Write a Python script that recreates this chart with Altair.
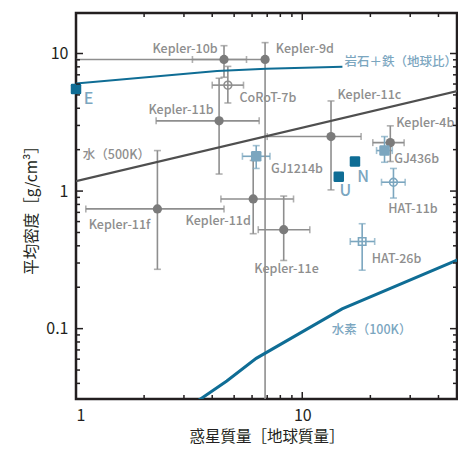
import altair as alt
import pandas as pd

# ---------------- data ----------------
planet_names = ["Kepler-10b", "Kepler-9d", "Kepler-11b", "Kepler-11c", "Kepler-4b",
                "Kepler-11f", "Kepler-11d", "Kepler-11e", "GJ1214b", "GJ436b",
                "HAT-11b", "HAT-26b", "CoRoT-7b"]
mass = [4.51, 6.85, 4.29, 13.4, 24.5, 2.29, 6.07, 8.28, 6.26, 23.1, 25.3, 18.4, 4.69]
mass_lo = [3.27, 0.5, 2.26, 7.0, 20.5, 1.105, 4.37, 6.39, 5.44, 21.3, 22.4, 16.3, 4.0]
mass_hi = [5.67, 6.85, 6.45, 18.2, 28.2, 4.51, 9.15, 10.8, 7.2, 25.0, 28.5, 20.9, 5.5]
density = [9.05, 9.05, 3.24, 2.49, 2.25, 0.742, 0.876, 0.524, 1.79, 1.97, 1.16, 0.43, 5.89]
dens_lo = [6.72, 0.01, 1.33, 1.02, 1.64, 0.27, 0.49, 0.313, 1.46, 1.62, 0.89, 0.266, 4.37]
dens_hi = [11.4, 12.0, 6.61, 4.52, 2.98, 1.97, 1.67, 0.92, 2.14, 2.49, 1.46, 0.579, 8.06]
marker_kind = ["dot"] * 8 + ["lb_square", "lb_square", "lb_ring", "lb_box", "gray_ring"]
bar_group = ["gray"] * 8 + ["blue", "blue", "blue", "blue", "gray"]

solar_names = ["E", "U", "N"]
solar_mass = [1.0, 14.5, 17.1]
solar_density = [5.51, 1.27, 1.64]

rock_mass = [1.0, 4.2, 6.92, 15.05]
rock_density = [6.05, 7.46, 7.76, 8.02]

water_mass = [1.0, 50.0]
water_density = [1.18, 5.40]

hydrogen_mass = [3.11, 3.55, 4.64, 6.26, 15.0, 50.0]
hydrogen_density = [0.0266, 0.0308, 0.0416, 0.0608, 0.139, 0.322]

label_texts = ["Kepler-10b", "Kepler-9d", "岩石＋鉄（地球比）", "E", "CoRoT-7b", "Kepler-11b",
               "Kepler-11c", "Kepler-4b", "水（500K）", "GJ1214b", "GJ436b", "N", "U",
               "HAT-11b", "Kepler-11f", "Kepler-11d", "Kepler-11e", "HAT-26b", "水素（100K）"]
label_x = [2.177, 7.64, 15.36, 1.083, 5.28, 2.09, 14.3, 26.0, 1.072, 7.27, 25.5, 17.5, 14.6,
           24.0, 1.138, 3.05, 6.14, 20.3, 13.5]
label_y = [10.86, 10.86, 8.62, 4.67, 4.75, 3.89, 4.99, 3.14, 1.815, 1.44, 1.70, 1.26, 1.0,
           0.742, 0.569, 0.608, 0.270, 0.319, 0.0984]
label_group = ["dark", "dark", "blue", "blue", "dark", "dark", "dark", "dark", "dark", "dark",
               "dark", "blue", "blue", "dark", "dark", "dark", "dark", "dark", "blue"]
label_size = ["s", "s", "s", "b", "s", "s", "s", "s", "s", "s",
              "s", "b", "b", "s", "s", "s", "s", "s", "s"]

x_major = [1, 10]
x_minor = [2, 3, 4, 5, 6, 7, 8, 9, 20, 30, 40]
y_major = [0.1, 1, 10]
y_minor = [0.04, 0.05, 0.06, 0.07, 0.08, 0.09, 0.2, 0.3, 0.4, 0.5, 0.6, 0.7, 0.8, 0.9,
           2, 3, 4, 5, 6, 7, 8, 9]

# ---------------- tables ----------------
planets = pd.DataFrame({"name": planet_names, "mass": mass, "mass_lo": mass_lo,
                        "mass_hi": mass_hi, "density": density, "dens_lo": dens_lo,
                        "dens_hi": dens_hi, "kind": marker_kind, "bar": bar_group})
solar = pd.DataFrame({"name": solar_names, "mass": solar_mass, "density": solar_density})
rock = pd.DataFrame({"mass": rock_mass, "density": rock_density})
water = pd.DataFrame({"mass": water_mass, "density": water_density})
hydrogen = pd.DataFrame({"mass": hydrogen_mass, "density": hydrogen_density})
labels = pd.DataFrame({"text": label_texts, "mass": label_x, "density": label_y,
                       "grp": label_group, "sz": label_size})

W, H = 381, 386
FONT = "Noto Sans CJK JP"
INK = "#231f20"
GRAY_BAR = "#8e8e8e"
GRAY_DOT = "#7b7b7b"
LIGHT_BLUE = "#7ba6bf"
TEAL = "#0f6d95"

xs = alt.Scale(type="log", domain=[1, 48.3], nice=False)
ys = alt.Scale(type="log", domain=[0.0308, 19.7], nice=False)
xaxis = alt.Axis(values=x_major, format="~g", title="惑星質量［地球質量］")
yaxis = alt.Axis(values=y_major, format="~g", title="平均密度［g/cm³］")


def X(field):
    return alt.X(field, type="quantitative", scale=xs, axis=xaxis)


def Y(field):
    return alt.Y(field, type="quantitative", scale=ys, axis=yaxis)


bar_color = alt.Color("bar:N", scale=alt.Scale(domain=["gray", "blue"],
                                                range=[GRAY_BAR, LIGHT_BLUE]), legend=None)

# error bars
hbars = alt.Chart(planets).mark_rule(strokeWidth=1.6, clip=True).encode(
    x=X("mass_lo"), x2="mass_hi", y=Y("density"), color=bar_color)
vbars = alt.Chart(planets).mark_rule(strokeWidth=1.6, clip=True).encode(
    x=X("mass"), y=Y("dens_lo"), y2="dens_hi", color=bar_color)
xcaps = alt.Chart(planets).transform_fold(["mass_lo", "mass_hi"], as_=["end", "xcap"]).mark_tick(
    orient="vertical", size=7, thickness=1.6, clip=True).encode(
    x=X("xcap"), y=Y("density"), color=bar_color)
ycaps = alt.Chart(planets).transform_fold(["dens_lo", "dens_hi"], as_=["end", "ycap"]).mark_tick(
    orient="horizontal", size=7, thickness=1.6, clip=True).encode(
    x=X("mass"), y=Y("ycap"), color=bar_color)

# model curves
water_line = alt.Chart(water).mark_line(color="#4f4f4f", strokeWidth=2.4, clip=True).encode(
    x=X("mass"), y=Y("density"))
rock_line = alt.Chart(rock).mark_line(color=TEAL, strokeWidth=2, clip=True).encode(
    x=X("mass"), y=Y("density"))
hydrogen_line = alt.Chart(hydrogen).mark_line(color=TEAL, strokeWidth=3, clip=True).encode(
    x=X("mass"), y=Y("density"))

ROUND_SQ = ("M -0.75 -1 L 0.75 -1 Q 1 -1 1 -0.75 L 1 0.75 Q 1 1 0.75 1 L -0.75 1 "
            "Q -1 1 -1 0.75 L -1 -0.75 Q -1 -1 -0.75 -1 Z")

dots = alt.Chart(planets).transform_filter("datum.kind == 'dot'").mark_point(
    shape="circle", filled=True, size=85, color=GRAY_DOT, opacity=1).encode(
    x=X("mass"), y=Y("density"))
lb_sq = alt.Chart(planets).transform_filter("datum.kind == 'lb_square'").mark_point(
    shape=ROUND_SQ, filled=True, size=110, color=LIGHT_BLUE, opacity=1).encode(
    x=X("mass"), y=Y("density"))
lb_ring = alt.Chart(planets).transform_filter("datum.kind == 'lb_ring'").mark_point(
    shape="circle", filled=False, size=60, color=LIGHT_BLUE, strokeWidth=1.6, opacity=1).encode(
    x=X("mass"), y=Y("density"))
lb_box = alt.Chart(planets).transform_filter("datum.kind == 'lb_box'").mark_point(
    shape="square", filled=False, size=55, color=LIGHT_BLUE, strokeWidth=1.6, opacity=1).encode(
    x=X("mass"), y=Y("density"))
gray_ring = alt.Chart(planets).transform_filter("datum.kind == 'gray_ring'").mark_point(
    shape="circle", filled=False, size=60, color=GRAY_BAR, strokeWidth=1.6, opacity=1).encode(
    x=X("mass"), y=Y("density"))
solar_pts = alt.Chart(solar).mark_point(
    shape=ROUND_SQ, filled=True, size=110, color=TEAL, opacity=1).encode(
    x=X("mass"), y=Y("density"))

text_color = alt.Color("grp:N", scale=alt.Scale(domain=["dark", "blue"], range=["#111111", "#1a72a0"]),
                       legend=None)
text_size = alt.Size("sz:N", scale=alt.Scale(domain=["s", "b"], range=[12.5, 16]), legend=None)
texts = alt.Chart(labels).mark_text(font=FONT, fontWeight=500, align="left",
                                    baseline="middle").encode(
    x=X("mass"), y=Y("density"), text="text:N", color=text_color, size=text_size)

# inward ticks on all four sides
def xticks(vals, length):
    d = pd.DataFrame({"t": vals})
    bottom = alt.Chart(d).mark_rule(color=INK, strokeWidth=1.5).encode(
        x=X("t"), y=alt.value(H), y2=alt.value(H - length))
    top = alt.Chart(d).mark_rule(color=INK, strokeWidth=1.5).encode(
        x=X("t"), y=alt.value(0), y2=alt.value(length))
    return [bottom, top]


def yticks(vals, length):
    d = pd.DataFrame({"t": vals})
    left = alt.Chart(d).mark_rule(color=INK, strokeWidth=1.5).encode(
        y=Y("t"), x=alt.value(0), x2=alt.value(length))
    right = alt.Chart(d).mark_rule(color=INK, strokeWidth=1.5).encode(
        y=Y("t"), x=alt.value(W), x2=alt.value(W - length))
    return [left, right]


tick_layers = xticks(x_major, 7) + xticks(x_minor, 4) + yticks(y_major, 7) + yticks(y_minor, 4)

chart = alt.layer(
    hbars, vbars, xcaps, ycaps,
    water_line, rock_line, hydrogen_line,
    dots, lb_sq, lb_ring, lb_box, gray_ring, solar_pts,
    texts, *tick_layers
).properties(
    width=W, height=H,
    autosize=alt.AutoSizeParams(type="none"),
    padding={"left": 68, "top": 5, "right": 1, "bottom": 47},
).configure_view(
    stroke=INK, strokeWidth=2.5
).configure_axis(
    grid=False, domain=False, ticks=False,
    labelFont=FONT, labelFontSize=16, labelColor=INK, labelPadding=8,
    titleFont=FONT, titleFontSize=15.5, titleColor=INK, titleFontWeight="normal",
    titlePadding=6
)

chart.save("out.html", embed_options={"renderer": "svg", "actions": False})
